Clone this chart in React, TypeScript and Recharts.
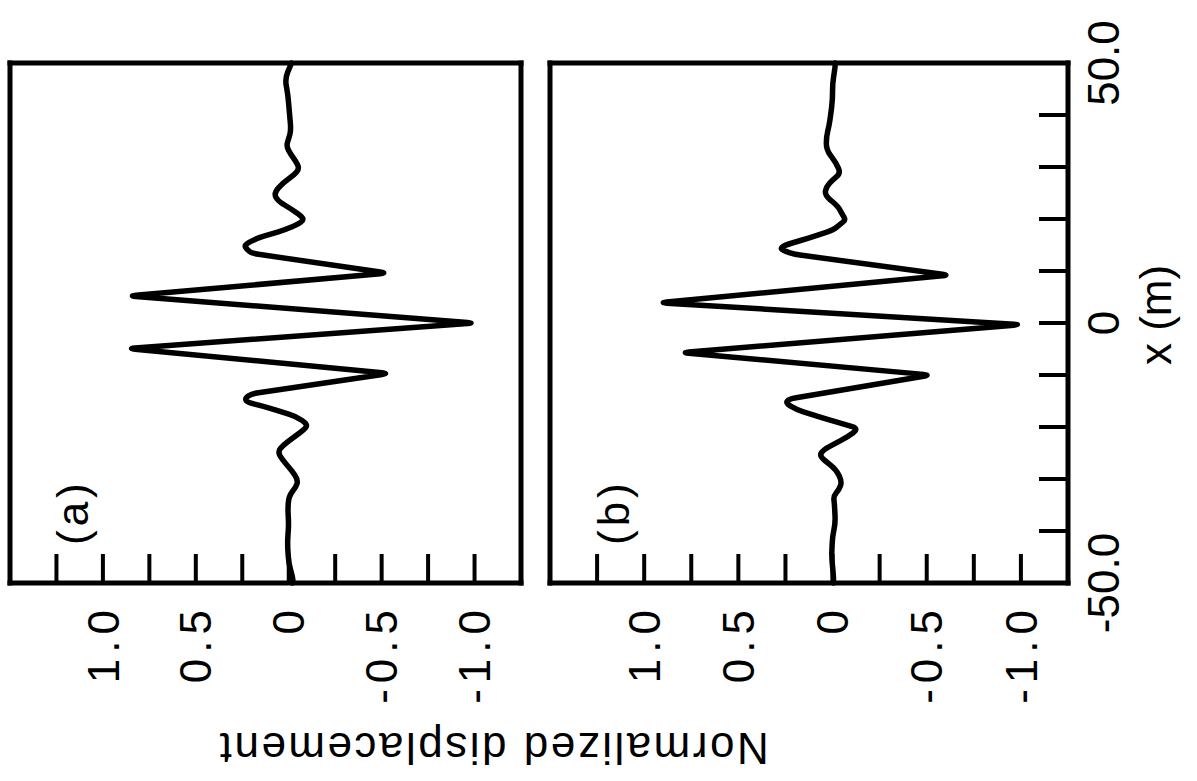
import React from 'react';
import { LineChart, Line, XAxis, YAxis, Label } from 'recharts';

// x position (m) and normalized displacement
const posA = [-50, -49.4, -46.2, -42.4, -38.5, -36, -33.3, -31.5, -30.2, -28.3, -26.5, -24.8, -23.5, -21.9, -20.3, -19.4, -18, -16.4, -15.2, -14.5, -13.6, -9.7, -4.9, 0, 5.2, 9.6, 13.4, 14.2, 14.8, 15.3, 16.3, 17.9, 19, 19.8, 20.5, 22, 23.5, 25, 27, 28.5, 29.7, 31, 32.5, 34, 35.5, 37, 40, 44, 47, 50];
const dispA = [-0.02, -0.025, 0, 0.007, 0, 0.005, 0, -0.04, -0.05, -0.015, 0.03, 0.06, 0.03, -0.03, -0.09, -0.1, -0.04, 0.1, 0.225, 0.235, 0.2, -0.54, 0.865, -1.0, 0.86, -0.53, 0.2, 0.225, 0.237, 0.225, 0.17, 0.02, -0.05, -0.08, -0.07, -0.01, 0.06, 0.08, 0.03, -0.03, -0.057, -0.04, -0.01, 0.013, 0, -0.012, -0.005, 0.005, 0.02, -0.015];

// same for panel (b)
const posB = [-50, -48.7, -44.9, -41, -38.5, -34.7, -33.3, -32, -30.5, -28.2, -25.6, -24.4, -21.9, -20.3, -18.5, -16.7, -15.4, -14.6, -10, -5.7, -0.3, 3.9, 9.2, 13.2, 13.9, 14.4, 15, 16.3, 17.9, 19, 19.8, 21, 22.4, 24.6, 26.2, 27.5, 28.8, 30.7, 33.3, 35.8, 38, 40, 43, 46, 49.3, 50];
const dispB = [-0.005, -0.005, 0.005, 0, -0.015, -0.01, -0.005, -0.035, -0.05, -0.02, 0.07, 0.05, -0.08, -0.14, 0.03, 0.19, 0.25, 0.23, -0.52, 0.8, -1.0, 0.917, -0.62, 0.2, 0.26, 0.277, 0.25, 0.13, -0.005, -0.04, -0.07, -0.05, -0.03, 0.042, 0.033, 0, -0.043, -0.02, 0.033, 0.033, 0.018, 0.01, 0, 0, -0.014, -0.014];

const xTicks = [-50, -40, -30, -20, -10, 0, 10, 20, 30, 40, 50];
const xLabels: Record<string, string> = { '-50': '-50.0', '0': '0', '50': '50.0' };
const yTicks = [-1.25, -1, -0.75, -0.5, -0.25, 0, 0.25, 0.5, 0.75, 1, 1.25, 1.5];
const yLabels: Record<string, string> = { '-1': '-1.0', '-0.5': '-0.5', '0': '0', '0.5': '0.5', '1': '1.0' };

const dataA = posA.map((x, i) => ({ x, v: dispA[i] }));
const dataB = posB.map((x, i) => ({ x, v: dispB[i] }));

const FONT = '"Liberation Sans", Arial, sans-serif';
const frame = { stroke: '#000', strokeWidth: 5, strokeLinecap: 'square' as const };
const tickLine = { stroke: '#000', strokeWidth: 4 };
const xTickText = { fontSize: 44, fill: '#000', fontFamily: FONT };
const yTickText = { fontSize: 44, fill: '#000', fontFamily: FONT, letterSpacing: 6 };
const TICK = -29; // negative -> ticks point into the frame

// polyline with its corners rounded off (pen-drawn look); passes through
// the straight parts and keeps the big spikes sharp
const CORNER = 7;
const roundedLine = (context: any) => {
  let pts: [number, number][] = [];
  return {
    areaStart() {},
    areaEnd() {},
    lineStart() {
      pts = [];
    },
    point(x: number, y: number) {
      pts.push([+x, +y]);
    },
    lineEnd() {
      const n = pts.length;
      if (!n) return;
      context.moveTo(pts[0][0], pts[0][1]);
      for (let i = 1; i < n - 1; i++) {
        const [px, py] = pts[i - 1];
        const [cx, cy] = pts[i];
        const [nx, ny] = pts[i + 1];
        const d1 = Math.hypot(cx - px, cy - py) || 1;
        const d2 = Math.hypot(nx - cx, ny - cy) || 1;
        const r1 = Math.min(CORNER, d1 / 2);
        const r2 = Math.min(CORNER, d2 / 2);
        context.lineTo(cx + ((px - cx) * r1) / d1, cy + ((py - cy) * r1) / d1);
        context.quadraticCurveTo(cx, cy, cx + ((nx - cx) * r2) / d2, cy + ((ny - cy) * r2) / d2);
      }
      if (n > 1) context.lineTo(pts[n - 1][0], pts[n - 1][1]);
    },
  };
};

function Panel({ data, height, showX }: { data: { x: number; v: number }[]; height: number; showX: boolean }) {
  return (
    <LineChart
      width={781}
      height={height}
      data={data}
      margin={{ top: 9, right: 62, bottom: showX ? 9 : 18, left: 0 }}
    >
      <XAxis
        xAxisId="top"
        orientation="top"
        type="number"
        dataKey="x"
        domain={[-50, 50]}
        ticks={xTicks}
        interval={0}
        height={1}
        tick={false}
        tickSize={TICK}
        tickLine={tickLine}
        axisLine={frame}
      />
      <XAxis
        type="number"
        dataKey="x"
        domain={[-50, 50]}
        ticks={xTicks}
        interval={0}
        height={showX ? 120 : 1}
        tick={showX ? xTickText : false}
        tickFormatter={(v) => xLabels[String(v)] ?? ''}
        tickSize={TICK}
        tickMargin={49}
        tickLine={tickLine}
        axisLine={frame}
      >
        {showX && (
          <Label value="x (m)" position="insideBottom" offset={17} dx={8} style={{ fontSize: 44, fill: '#000', fontFamily: FONT }} />
        )}
      </XAxis>
      <YAxis
        type="number"
        domain={[-1.25, 1.5]}
        ticks={yTicks}
        interval={0}
        width={198}
        tick={yTickText}
        tickFormatter={(v) => yLabels[String(v)] ?? ''}
        tickSize={TICK}
        tickMargin={50}
        tickLine={tickLine}
        axisLine={frame}
      />
      <YAxis
        yAxisId="right"
        orientation="right"
        type="number"
        dataKey="v"
        domain={[-1.25, 1.5]}
        ticks={yTicks}
        interval={0}
        width={1}
        tick={false}
        tickSize={TICK}
        tickLine={tickLine}
        axisLine={frame}
      />
      <Line
        type={roundedLine as any}
        dataKey="v"
        stroke="#000"
        strokeWidth={5.5}
        strokeLinejoin="round"
        strokeLinecap="round"
        dot={false}
        isAnimationActive={false}
      />
    </LineChart>
  );
}

export default function App() {
  return (
    <div style={{ position: 'fixed', left: 0, top: 0, width: 1197, height: 781, overflow: 'hidden', background: '#fff', fontFamily: FONT }}>
      {/* the figure is drawn upright and then turned a quarter turn counter-clockwise */}
      <div
        style={{
          position: 'absolute',
          left: 0,
          top: 0,
          width: 781,
          height: 1197,
          transformOrigin: '0 0',
          transform: 'translateY(781px) rotate(-90deg)',
        }}
      >
        <div style={{ position: 'absolute', left: 0, top: 0 }}>
          <Panel data={dataA} height={540} showX={false} />
        </div>
        <div style={{ position: 'absolute', left: 0, top: 540 }}>
          <Panel data={dataB} height={657} showX={true} />
        </div>
        <svg width={781} height={1197} style={{ position: 'absolute', left: 0, top: 0, pointerEvents: 'none' }}>
          <text x={48} y={493} transform="rotate(-90 48 493)" textAnchor="middle" fontSize={44} letterSpacing={2.5} fill="#000" fontFamily={FONT}>
            Normalized displacement
          </text>
          <text x={236} y={88} fontSize={44} letterSpacing={4} fill="#000" fontFamily={FONT}>(a)</text>
          <text x={236} y={629} fontSize={44} letterSpacing={4} fill="#000" fontFamily={FONT}>(b)</text>
        </svg>
      </div>
    </div>
  );
}
